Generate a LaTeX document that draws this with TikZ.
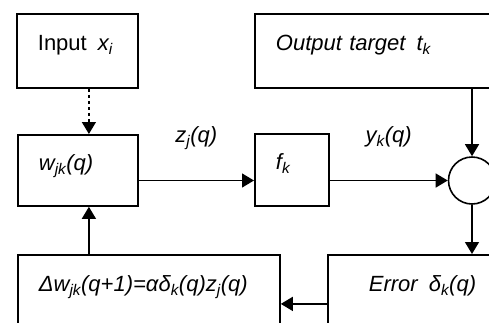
\documentclass[tikz,border=0pt]{standalone}
\usepackage{fontspec}
\setmainfont{Liberation Sans}
\usetikzlibrary{positioning, arrows.meta, calc}
\newcommand{\sub}[1]{\textsubscript{#1}}

\begin{document}
\begin{tikzpicture}[x=1pt, y=-1pt,
                block/.style={draw=black, line width=1.8pt, rectangle, anchor=north west, align=left, inner xsep=21pt, minimum height=74pt, text height=16pt, text depth=16pt, font=\fontsize{22}{26}\selectfont},
                sumnode/.style={draw=black, line width=1.6pt, circle, minimum size=47pt, inner sep=0pt},
                edge/.style={line width=1.4pt, -{Triangle[length=12pt, width=14pt]}},
                varlabel/.style={font=\fontsize{22}{26}\selectfont\itshape, anchor=base, yshift=38pt}
            ]
            \useasboundingbox (0,0) rectangle (489,322);
            \clip (0,0) rectangle (489,322);

            % Knoten
            \node[block, text width=79pt] (inp) at (16,13) {Input\enspace\textit{x\sub{i}}};
            \node[block, text width=224pt] (tgt) at (254,13) {\textit{Output target\enspace t\sub{k}}};
            \node[block, text width=78pt, minimum height=71pt] (w) at (17,134) {\textit{w\sub{jk}(q)}};
            \node[block, text width=32pt, minimum height=72pt] (f) at (254,133) {\textit{f\sub{k}}};
            \node[sumnode] (sum) at (472,180.5) {};
            \node[block, text width=220pt] (upd) at (17,254) {\textit{Δw\sub{jk}(q+1)=αδ\sub{k}(q)z\sub{j}(q)}};
            \node[block, text width=160pt, inner xsep=41pt] (err) at (327,254) {\textit{Error\enspace δ\sub{k}(q)}};
            \coordinate (wtop) at ([xshift=11pt]w.north);
            \coordinate (wbot) at ([xshift=11pt]w.south);

            % Kanten zwischen Knoten
            \draw[edge, dash pattern=on 3pt off 3pt] (inp.south -| wtop) -- (wtop);
            \draw[edge] (w.east |- sum.west) -- (f.west |- sum.west) node[midway, varlabel] {z\sub{j}(q)};
            \draw[edge] (f.east |- sum.west) -- (sum.west) node[midway, varlabel] {y\sub{k}(q)};
            \draw[edge] (sum.north |- tgt.south) -- (sum.north);
            \draw[edge] (sum.south) -- (sum.south |- err.north);
            \draw[edge] ([yshift=-12pt]err.west) -- ([yshift=-12pt]upd.east);
            \draw[edge] (upd.north -| wbot) -- (wbot);

        \end{tikzpicture}
\end{document}
